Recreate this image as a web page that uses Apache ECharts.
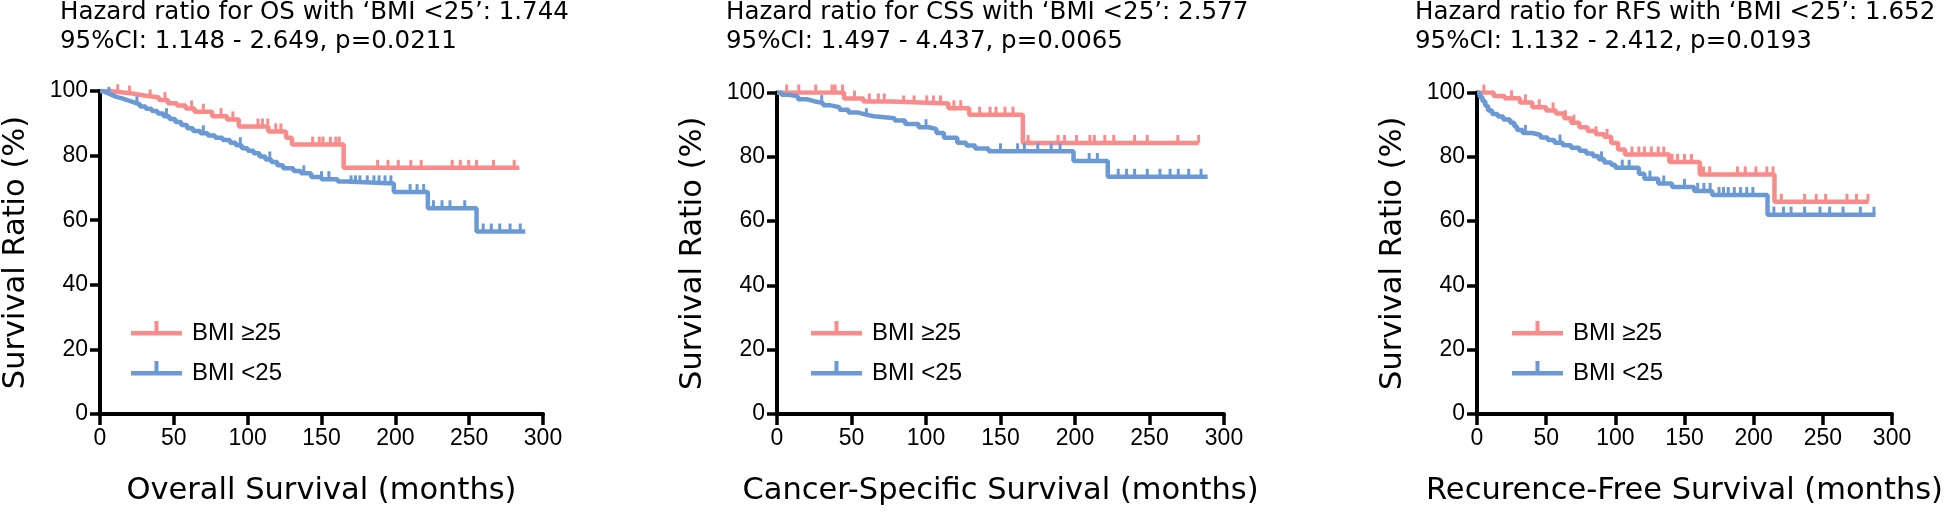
<!DOCTYPE html>
<html><head><meta charset="utf-8">
<script src="https://cdn.jsdelivr.net/npm/echarts@6/dist/echarts.min.js"></script>
<style>html,body{margin:0;padding:0;background:#fff}#c{width:1946px;height:512px}</style>
</head><body><div id="c"></div>
<script>
// ---------- data ----------
const seriesNames = ['BMI ≥25', 'BMI <25'];
const xTickValues = [0, 50, 100, 150, 200, 250, 300];
const yTickValues = [0, 20, 40, 60, 80, 100];
const titleLine1 = [
  'Hazard ratio for OS with ‘BMI <25’: 1.744',
  'Hazard ratio for CSS with ‘BMI <25’: 2.577',
  'Hazard ratio for RFS with ‘BMI <25’: 1.652'
];
const titleLine2 = [
  '95%CI: 1.148 - 2.649, p=0.0211',
  '95%CI: 1.497 - 4.437, p=0.0065',
  '95%CI: 1.132 - 2.412, p=0.0193'
];
const xAxisTitles = ['Overall Survival (months)', 'Cancer-Specific Survival (months)', 'Recurence-Free Survival (months)'];
const yAxisTitle = 'Survival Ratio (%)';

// Kaplan-Meier steps: [month, survival %] (value holds until next point)
const osHighSteps = [[0,100],[6,99.6],[14,99.2],[22,98.6],[30,98.0],[40,97.2],[46,96.2],[52,95.5],[58,94.6],[64,93.6],[76,92.2],[86,91.2],[94,89.0],[114,87.5],[126,85.5],[130,83.4],[165,76.2],[284,76.2]];
const osLowSteps = [[0,100],[2,99.4],[5,98.8],[8,98.2],[11,97.7],[15,97.1],[19,96.5],[23,95.9],[27,95.2],[31,94.5],[35,93.8],[39,93.0],[43,92.2],[47,91.3],[51,90.4],[55,89.5],[59,88.5],[63,87.6],[68,86.9],[73,86.2],[78,85.5],[83,84.8],[88,84.0],[92,83.2],[96,82.3],[100,81.5],[104,80.7],[108,79.7],[112,78.8],[116,78.0],[120,77.0],[124,76.1],[131,75.2],[136,74.5],[143,73.4],[150,72.7],[161,72.0],[167,71.4],[199,68.7],[222,63.7],[255,56.5],[288,56.5]];
const cssHighSteps = [[0,100],[45,98.1],[58,97.2],[77,96.6],[115,95.1],[129,93.1],[165,84.3],[283,84.3]];
const cssLowSteps = [[0,100],[3,99.3],[8,98.8],[14,97.9],[20,97.3],[25,96.7],[31,96.0],[36,95.4],[42,94.6],[48,93.8],[54,93.2],[59,92.6],[65,92.0],[79,91.3],[86,90.2],[95,89.2],[102,88.6],[107,87.4],[112,85.9],[121,84.4],[127,83.5],[133,82.6],[142,81.7],[199,78.7],[222,73.8],[289,73.8]];
const rfsHighSteps = [[0,100],[12,98.9],[20,98.2],[31,96.9],[40,95.4],[50,94.4],[57,93.5],[63,92.0],[68,90.6],[74,89.2],[80,88.0],[86,87.0],[92,86.2],[97,84.3],[102,82.3],[107,80.7],[139,78.4],[161,74.5],[215,66.0],[283,66.0]];
const rfsLowSteps = [[0,100],[2,98.6],[4,97.3],[6,95.8],[8,94.4],[11,93.3],[15,92.5],[19,91.6],[24,90.6],[27,89.4],[29,88.3],[33,87.4],[40,86.8],[46,86.0],[51,85.2],[56,84.4],[62,83.6],[68,82.8],[74,81.9],[79,81.0],[84,80.2],[88,79.2],[92,78.2],[97,77.5],[100,76.6],[117,74.7],[121,73.2],[131,71.7],[141,70.6],[157,69.4],[170,68.1],[210,62.0],[288,62.0]];

// censored observations (months)
const osHighCensor = [12,20,34,44,62,70,82,90,107,110,113.6,119,122.5,144,148.5,151,156,159.7,162,188,195,202,210.5,217.5,238.5,244,249.7,255,266.5,280.5];
const osLowCensor = [6,25,45,70,95,115,138,150,155,170,173,176,181,185.5,189,193,197,210,214.7,219.2,225.8,231.6,237,247,259.5,265,270.7,277.7,284.6];
const cssHighCensor = [6.5,14.6,26,37,39,44,52,62,68,72,85,92,100.5,105,109.7,118.7,123.3,136,143,147,153,158.4,168.5,188.6,193,201,210,213,220,226,240,248.5,269,283];
const cssLowCensor = [30,60,100,150,161.5,166,175,184,190,209.5,215,229,234.6,240,248.5,257,263.8,269.3,276.3,284.6];
const rfsHighCensor = [5,25,35,45,55,64,70,86,94,112,117,121,126,131,135,141,145,150,155,163.7,168.2,188.3,193.9,201.6,209.5,214,220,236.8,245.2,252,267.4,274.3,282.6];
const rfsLowCensor = [35,60,90,105,110,125,135,150,159.5,164,168.5,174.9,178.2,181.6,186,190.5,195,199.4,214.6,221.5,227,236.8,247.9,254.9,264.6,277.1,286.9];

const panelSteps = [[osHighSteps, osLowSteps], [cssHighSteps, cssLowSteps], [rfsHighSteps, rfsLowSteps]];
const panelCensor = [[osHighCensor, osLowCensor], [cssHighCensor, cssLowCensor], [rfsHighCensor, rfsLowCensor]];

// ---------- layout / style ----------
const colors = ['#FA8B8B', '#6A9AD6'];
const grids = [
  {left: 98, top: 91, width: 445, height: 324.5},
  {left: 777, top: 92.5, width: 447, height: 324},
  {left: 1477, top: 92.5, width: 448, height: 324}
];
const titleLeft = [60, 726, 1415];
const legendLeft = [131, 811, 1512];

function valueAt(steps, t) {
  let v = steps[0][1];
  for (const p of steps) { if (p[0] <= t) v = p[1]; else break; }
  return v;
}

const tickSym = 'path://M0,0 L3,0 L3,8 L0,8 Z';
const legendIcon = 'path://M0,10 L51,10 L51,14.5 L0,14.5 Z M23.5,0 L27.5,0 L27.5,10 L23.5,10 Z M56,24 L56,24.01 L55.99,24 Z';

const option = {
  animation: false,
  backgroundColor: '#fff',
  title: titleLine1.map((t, i) => ({
    text: t + '\n' + titleLine2[i],
    left: titleLeft[i], top: -2, padding: 0,
    textStyle: {fontFamily: 'DejaVu Sans', fontSize: 24.5, fontWeight: 'normal', color: '#000', lineHeight: 29}
  })),
  legend: grids.map((g, i) => ({
    data: seriesNames,
    orient: 'vertical',
    left: legendLeft[i], top: 321, padding: 0,
    itemWidth: 56, itemHeight: 24, itemGap: 16,
    icon: legendIcon,
    itemStyle: {borderWidth: 0},
    selectedMode: false,
    textStyle: {fontFamily: 'Liberation Sans, Arial, sans-serif', fontSize: 24, color: '#000'}
  })),
  grid: grids.map(g => Object.assign({containLabel: false}, g)),
  xAxis: grids.map((g, i) => ({
    type: 'value', gridIndex: i,
    min: xTickValues[0], max: xTickValues[xTickValues.length - 1], interval: xTickValues[1] - xTickValues[0],
    name: xAxisTitles[i], nameLocation: 'middle', nameGap: 62,
    nameTextStyle: {fontFamily: 'DejaVu Sans', fontSize: 30.5, color: '#000'},
    axisLine: {onZero: false, lineStyle: {color: '#000', width: 4}},
    axisTick: {length: 11, lineStyle: {color: '#000', width: 3.5}},
    axisLabel: {margin: 13, fontFamily: 'Liberation Sans, Arial, sans-serif', fontSize: 23, color: '#000'},
    splitLine: {show: false}
  })),
  yAxis: grids.map((g, i) => ({
    type: 'value', gridIndex: i,
    min: yTickValues[0], max: yTickValues[yTickValues.length - 1], interval: yTickValues[1] - yTickValues[0],
    name: yAxisTitle, nameLocation: 'middle', nameGap: 68,
    nameTextStyle: {fontFamily: 'DejaVu Sans', fontSize: 30.5, color: '#000'},
    axisLine: {onZero: false, lineStyle: {color: '#000', width: 4}},
    axisTick: {length: 10, lineStyle: {color: '#000', width: 3.5}},
    axisLabel: {margin: 12, fontFamily: 'Liberation Sans, Arial, sans-serif', fontSize: 23, color: '#000'},
    splitLine: {show: false}
  })),
  series: []
};

panelSteps.forEach((pair, i) => {
  pair.forEach((steps, k) => {
    option.series.push({
      name: seriesNames[k], type: 'line', xAxisIndex: i, yAxisIndex: i,
      data: steps, step: 'end', showSymbol: false, symbol: 'none',
      color: colors[k],
      lineStyle: {color: colors[k], width: 4.5},
      z: 2 + k
    });
    option.series.push({
      name: 'censor-' + k + '-' + i, type: 'scatter', xAxisIndex: i, yAxisIndex: i,
      data: panelCensor[i][k].map(t => [t, valueAt(steps, t)]),
      symbol: tickSym, symbolSize: [3, 8], symbolOffset: [0, -4],
      itemStyle: {color: colors[k], opacity: 1},
      z: 2 + k
    });
  });
});

const chart = echarts.init(document.getElementById('c'));
chart.setOption(option);
</script>
</body></html>
